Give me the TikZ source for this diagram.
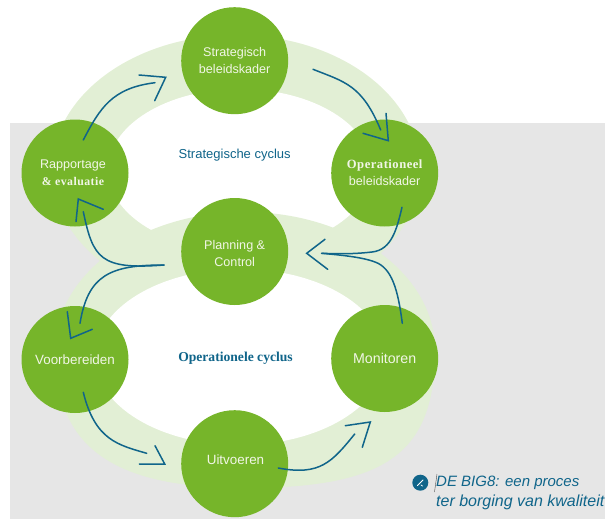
\documentclass[tikz,border=0pt]{standalone}
\usepackage{fontspec}
\setmainfont{Liberation Sans}
\newfontfamily\serifx[LetterSpace=4]{Liberation Serif}
\newfontfamily\serifp{Liberation Serif}
\definecolor{leaf}{HTML}{76B52A}
\definecolor{pale}{HTML}{E2EFD5}
\definecolor{greybg}{HTML}{E6E6E6}
\definecolor{inkblue}{HTML}{10658A}
\definecolor{soft}{HTML}{F1F6E6}
\tikzset{
  stage/.style={circle,fill=leaf,draw=none,minimum size=107pt,inner sep=0pt,align=center,text=soft,font=\fontsize{12.6}{17}\selectfont},
  stagetext/.style={inner sep=0pt,align=center,text=soft,font=\fontsize{12.6}{17}\selectfont},
  big/.style={font=\fontsize{13.4}{17}\selectfont},
  cyclelabel/.style={text=inkblue,inner sep=0pt,font=\fontsize{13}{14}\selectfont},
  flow/.style={draw=inkblue,line width=1.5pt,line cap=round,line join=round},
  barb/.style={draw=inkblue,line width=1.5pt,line cap=round,line join=miter}
}
\begin{document}
\begin{tikzpicture}[x=1pt,y=-1pt]
\useasboundingbox (0,0) rectangle (605,519);
\fill[greybg] (10,122.5) rectangle (605,519);
% rings
\fill[pale] (236,170) ellipse [x radius=184,y radius=135];
\fill[white] (240,170) ellipse [x radius=132,y radius=81];
\fill[pale] (55,350) .. controls (55,273.8) and (140,212) .. (245,212)
  .. controls (350,212) and (435,273.8) .. (435,350)
  .. controls (435,453) and (387,488) .. (245,488)
  .. controls (112,488) and (55,447) .. cycle;
\fill[white] (240,357) ellipse [x radius=145,y radius=88];
% stages
\node[stage] (strat) at (234.7,60.7) {Strategisch\\beleidskader};
\node[stage] (rapp) at (75,173) {\hspace*{-4pt}Rapportage\\\hspace*{-4pt}{\serifx\bfseries\fontsize{11.8}{17}\selectfont \&\ evaluatie}};
\node[stage] (oper) at (384.7,173) {{\serifx\fontsize{12.6}{17}\selectfont\bfseries Operationeel}\\beleidskader};
\node[stage] (plan) at (234.7,251.5) {};
\node[stagetext] (plantext) at (234.7,253.5) {Planning \&\\Control};
\node[stage,big] (voor) at (75,359.5) {Voorbereiden};
\node[stage,font=\fontsize{14.2}{17}\selectfont] (moni) at (384.7,358.5) {Monitoren};
\node[stage] (uitv) at (234.7,463.7) {};
\node[stagetext,big] (uitvtext) at (235.5,459.5) {Uitvoeren};
\node[cyclelabel] (lstrat) at (234.7,155.5) {Strategische cyclus};
\node[cyclelabel,font=\serifp\bfseries\fontsize{13.6}{14}\selectfont] (lop) at (235.5,358.5) {Operationele cyclus};
% connector anchors
\coordinate (a1s) at (83.3,140); \coordinate (a1e) at (155,82.7);
\coordinate (a1t) at (165.7,77.3); \coordinate (a1a) at (139,75); \coordinate (a1b) at (154.7,100.7);
\coordinate (a2s) at (313,69.3); \coordinate (a2e) at (380.7,130);
\coordinate (a2t) at (388.3,140.7); \coordinate (a2a) at (386,113.3); \coordinate (a2b) at (363,133.3);
\coordinate (a3s) at (402,207.3); \coordinate (pe) at (321.7,253.3);
\coordinate (a3t) at (306.7,253.3); \coordinate (a3a) at (325,239.3); \coordinate (a3b) at (327.7,269.3);
\coordinate (a4s) at (402.3,323.3);
\coordinate (ls) at (164,265);
\coordinate (a5e) at (83.3,211.7);
\coordinate (a5t) at (78.3,199); \coordinate (a5a) at (76,221.7); \coordinate (a5b) at (103.3,209.3);
\coordinate (a6e) at (80,323.3);
\coordinate (a6t) at (70.7,338.3); \coordinate (a6a) at (67.3,311.7); \coordinate (a6b) at (92.3,329.3);
\coordinate (a7s) at (83.3,392.3); \coordinate (a7e) at (146.7,453.3);
\coordinate (a7t) at (164.7,464); \coordinate (a7a) at (139.3,464); \coordinate (a7b) at (155,445.7);
\coordinate (a8s) at (278.3,468); \coordinate (a8e) at (354.7,434);
\coordinate (a8t) at (370.3,422); \coordinate (a8a) at (345.3,425.7); \coordinate (a8b) at (362.3,447.3);
% connectors
\draw[flow] (a1s) .. controls (100,108) and (112,88) .. (a1e);
\draw[barb] (a1a) -- (a1t) -- (a1b);
\draw[flow] (a2s) .. controls (345,82) and (362,85) .. (a2e);
\draw[barb] (a2a) -- (a2t) -- (a2b);
\draw[flow] (a3s) .. controls (397,228) and (392,250) .. (372,252) .. controls (355,254) and (340,254) .. (pe);
\draw[barb] (a3a) -- (a3t) -- (a3b);
\draw[flow] (a4s) .. controls (398,290) and (392,268) .. (375,262) .. controls (362,257) and (340,255) .. (pe);
\draw[flow] (ls) .. controls (100,270) and (93,258) .. (a5e);
\draw[barb] (a5a) -- (a5t) -- (a5b);
\draw[flow] (ls) .. controls (110,265) and (88,275) .. (a6e);
\draw[barb] (a6a) -- (a6t) -- (a6b);
\draw[flow] (a7s) .. controls (95,440) and (118,445) .. (a7e);
\draw[barb] (a7a) -- (a7t) -- (a7b);
\draw[flow] (a8s) .. controls (320,476) and (332,462) .. (a8e);
\draw[barb] (a8a) -- (a8t) -- (a8b);
% caption
\node[circle,fill=inkblue,minimum size=16pt,inner sep=0pt] (badge) at (420.3,482.7) {};
\draw[white,line width=.8pt,line cap=round] (417.5,485.5) -- (420.5,482.5) (420.5,482.5) -- (423,480) (421,485) -- (422.5,486);
\draw[black!70,line width=.4pt] (437,474) -- (434.5,492);
\node[text=inkblue,anchor=west,inner sep=0pt,align=left,font=\itshape\fontsize{16}{20}\selectfont] (cap) at (436,493) {{\fontsize{15}{20}\selectfont DE BIG8: een proces}\\ter borging van kwaliteit};
\end{tikzpicture}
\end{document}
